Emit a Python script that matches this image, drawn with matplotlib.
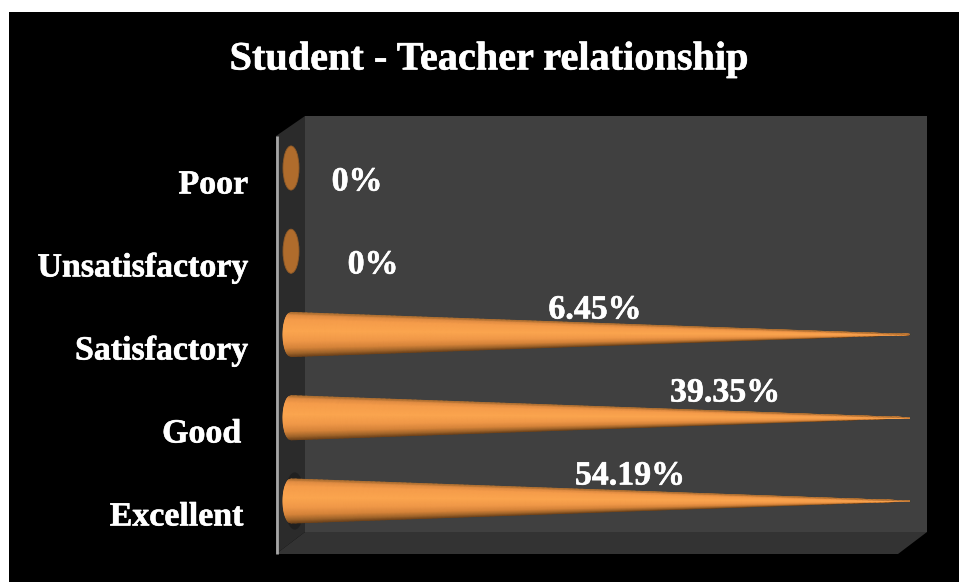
import numpy as np
import matplotlib
matplotlib.use("Agg")
import matplotlib.pyplot as plt
import matplotlib.patheffects as pe
from matplotlib.colors import LinearSegmentedColormap
from matplotlib.patches import Polygon, Rectangle, Ellipse

title = "Student - Teacher relationship"
categories = ["Excellent", "Good", "Satisfactory", "Unsatisfactory", "Poor"]
percentages = [54.19, 39.35, 6.45, 0, 0]
bar_lengths = [100, 100, 100, 0, 0]   # the drawn cones run full length regardless of label

W, H = 959, 582
fig = plt.figure(figsize=(W / 100, H / 100), dpi=100, facecolor="white")
FONT = "Liberation Serif"


def frame(px0, py0, px1, py1):
    return [px0 / W, 1 - py1 / H, (px1 - px0) / W, (py1 - py0) / H]


# Scene layer in pixel coordinates: black card and 3-D box
bg = fig.add_axes([0, 0, 1, 1])
bg.set_xlim(0, W)
bg.set_ylim(H, 0)
bg.axis("off")
bg.add_patch(Rectangle((9, 12), W - 9, H - 12, fc="black", ec="none"))
bg.add_patch(Rectangle((305, 116), 622, 416, fc="#404040", ec="none"))
bg.add_patch(Polygon([(276, 136), (305, 116), (305, 532), (276, 554)], fc="#2b2b2b", ec="none"))
bg.add_patch(Polygon([(276, 554), (305, 532), (927, 532), (898, 554)], fc="#333333", ec="none"))
bg.plot([277, 277], [136, 554], color="#a6a6a6", lw=2, solid_capstyle="butt")

# Bars on their own value / category scales
ax = fig.add_axes(frame(291, 168 - 83.25 / 2, 910, 501 + 83.25 / 2))
ax.set_xlim(0, 100)
ax.set_ylim(-0.5, 4.5)
ax.patch.set_alpha(0)
ax.axis("off")

cone_cmap = LinearSegmentedColormap.from_list(
    "cone", [(0, "#6e421a"), (0.08, "#a0642a"), (0.2, "#d6843a"), (0.36, "#f09848"),
             (0.58, "#fba54e"), (0.85, "#f59c4a"), (0.96, "#e08c42"), (1, "#a86c30")])
half_h = 0.265
cap_w = 8 / 619 * 100

for i, (length, name) in enumerate(zip(bar_lengths, categories)):
    if name == "Excellent":
        ax.add_patch(Ellipse((0.6, i), cap_w * 2.6, half_h * 2.6, fc="#1c1c1c", ec="none",
                             alpha=0.7, lw=0, clip_on=False))
    if length > 0:
        u = np.linspace(0, 1, 120)
        v = np.linspace(-1, 1, 41)
        U, V = np.meshgrid(u, v)
        X = U * length - (1 - U) * cap_w * np.sqrt(np.clip(1 - V ** 2, 0, 1))
        Y = i + V * half_h * (1 - U)
        C = (V + 1) / 2
        m = ax.pcolormesh(X, Y, C, cmap=cone_cmap, shading="gouraud", vmin=0, vmax=1, zorder=3)
        m.set_clip_on(False)
    else:
        ax.add_patch(Ellipse((0, i), cap_w * 2, half_h * 2, fc="#b06c2c", ec="#8f5a28", lw=0.6,
                             zorder=3, clip_on=False))

# Category labels (right edge in px) and value labels (centre in px)
cat_right = [243, 241, 248, 248, 248]
cat_y = [517, 434, 351, 268, 185]
val_x = [630, 725, 595, 373, 357]
val_y = [476, 393, 310, 265, 182]
FS = 24.4
heavy = [pe.withStroke(linewidth=0.4, foreground="white")]

for name, x, y in zip(categories, cat_right, cat_y):
    bg.text(x, y, name, ha="right", va="center", color="white",
            family=FONT, weight="bold", fontsize=FS, path_effects=heavy)
for p, x, y in zip(percentages, val_x, val_y):
    bg.text(x, y, f"{p:g}%", ha="center", va="center", color="white",
            family=FONT, weight="bold", fontsize=FS, path_effects=heavy)
bg.text(489, 60, title, ha="center", va="center", color="white",
        family=FONT, weight="bold", fontsize=29, path_effects=heavy)

fig.savefig("out.png", dpi=100, facecolor="white")
